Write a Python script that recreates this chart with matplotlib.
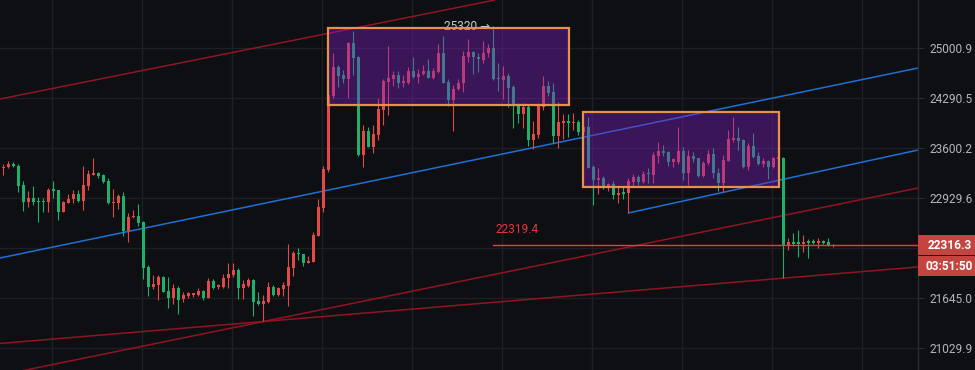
import numpy as np
import matplotlib
matplotlib.use("Agg")
import matplotlib.pyplot as plt
from matplotlib.patches import Rectangle
from matplotlib.ticker import NullLocator

# ---------------- data ----------------
opens = [23323,23341,23386,23359,23104,22881,22926,22895,22895,22874,
         23050,23037,22751,22868,22913,22983,22895,23095,23238,23269,
         23238,23158,22861,22868,22956,22500,22678,22695,22621,22041,
         21780,21809,21915,21734,21649,21775,21629,21670,21683,21683,
         21734,21649,21860,21780,21788,21894,21936,22000,21775,21801,
         21873,21608,21567,21599,21788,21683,21759,21801,22029,22219,
         22202,22092,22105,22439,22803,23305,24319,24735,24617,24560,
         25077,24877,23506,23835,23618,23780,24125,24522,24560,24617,
         24508,24508,24674,24593,24627,24674,24570,24664,24934,24522,
         24263,24414,24499,24877,24948,24877,24830,24926,25005,24579,
         24546,24607,24451,24204,24065,24170,23711,23780,24170,24461,
         24380,23770,23949,23973,23941,23959,23821,23894,23349,23171,
         23202,23091,23117,22970,23014,22993,23148,23215,23140,23269,
         23238,23493,23560,23551,23417,23417,23560,23269,23493,23462,
         23225,23395,23520,23261,23135,23426,23711,23742,23711,23349,
         23628,23493,23386,23426,23349,23457,23462,22309,22353,22353,
         22327,22370,22374,22348,22370,22361,22305]
highs = [23382,23430,23417,23382,23162,23028,23095,22947,22934,23060,
         23162,23040,22895,22979,23037,23037,23359,23305,23462,23282,
         23245,23202,23046,22983,23014,22730,22773,22848,22634,22063,
         21936,21936,21927,21907,21818,21801,21717,21717,21712,21768,
         21740,21894,21886,21822,21945,22084,22092,22029,21873,21902,
         21882,21717,21683,21851,21809,21788,21851,22327,22244,22282,
         22205,22177,22491,22913,23359,24361,24926,24759,24688,25092,
         25250,24891,23918,23886,23918,24286,24556,25030,24674,24674,
         24617,24727,24877,24698,24759,24840,24721,25054,25178,24556,
         24475,24556,24958,25126,24963,24934,25102,25054,25320,24783,
         24749,24641,24475,24217,24217,24194,23977,24217,24607,24536,
         24508,24231,24065,24070,24083,23987,23918,24024,23372,23336,
         23225,23127,23158,23073,23073,23194,23251,23238,23296,23336,
         23551,23687,23641,23564,23462,23894,23618,23573,23551,23470,
         23426,23573,23596,23328,23506,23849,24019,23894,23720,23673,
         23803,23551,23462,23439,23484,23484,23475,22413,22478,22513,
         22448,22392,22396,22413,22383,22405,22330]
lows = [23238,23336,23349,23014,22760,22809,22835,22621,22743,22751,
        22926,22643,22743,22861,22861,22881,22773,23037,23238,23194,
        23135,22855,22678,22783,22435,22361,22665,22565,21886,21674,
        21755,21620,21717,21526,21567,21444,21599,21649,21661,21670,
        21620,21645,21759,21759,21775,21768,21915,21629,21629,21788,
        21427,21559,21362,21580,21674,21674,21674,21547,21927,22126,
        22054,22084,22097,22435,22751,23278,24286,24451,24499,24286,
        24617,23497,23341,23610,23529,23711,23918,24056,24461,24437,
        24451,24489,24570,24508,24617,24570,24560,24650,24499,24184,
        23839,24404,24380,24806,24627,24656,24792,24877,24546,24394,
        24277,24162,23872,23941,23872,23628,23583,23742,24125,24323,
        23665,23604,23724,23756,23849,23780,23807,23330,22839,22983,
        23050,23028,22917,22868,22917,22730,23073,23104,23127,23135,
        23135,23395,23493,23359,23341,23386,23171,23104,23417,23215,
        23215,23372,23194,23028,23014,23420,23679,23573,23336,23305,
        23462,23372,23349,23184,23336,23450,21902,22253,22309,22161,
        22232,22155,22327,22274,22331,22305,22290]
closes = [23349,23386,23359,23095,22881,22926,22881,22874,22874,23037,
          23028,22751,22881,22917,22983,22895,23104,23251,23269,23229,
          23148,22861,22881,22960,22504,22686,22699,22608,22029,21788,
          21822,21915,21725,21649,21775,21620,21683,21704,21704,21734,
          21649,21860,21775,21809,21902,21949,22000,21775,21818,21873,
          21599,21567,21608,21788,21683,21775,21809,22041,22219,22199,
          22092,22117,22448,22816,23319,24333,24735,24607,24560,25077,
          24863,23506,23835,23618,23789,24139,24532,24570,24617,24508,
          24536,24674,24593,24631,24674,24579,24674,24926,24508,24263,
          24418,24508,24887,24948,24869,24840,24934,25005,24560,24556,
          24607,24428,24180,24065,24170,23711,23793,24180,24461,24366,
          23770,23955,23973,23941,23963,23825,23890,23336,23171,23202,
          23060,23117,22970,23001,22979,23158,23215,23140,23251,23248,
          23506,23564,23537,23417,23449,23560,23269,23493,23453,23225,
          23403,23520,23261,23135,23439,23724,23742,23701,23349,23628,
          23484,23386,23426,23349,23462,23475,22309,22353,22327,22327,
          22353,22340,22340,22370,22348,22309,22316.3]

price_ticks = [21029.9, 21645.0, 22278.4, 22929.6, 23600.2, 24290.5, 25000.9]
price_tick_labels = ["21029.9", "21645.0", "22278.4", "22929.6", "23600.2", "24290.5", "25000.9"]

# rectangles: (x start bar, x end bar, low price, high price)
box1 = (64.94, 113.14, 24192.7, 25290.9)
box2 = (115.94, 155.14, 23075.6, 24095.3)

# trend lines: ((x0, p0), (x1, p1))
red_top = ((-0.66, 24276.6), (98.34, 25702.4))
blue_long = ((-0.66, 22150.0), (182.94, 24714.0))
blue_short = ((124.94, 22732.0), (182.94, 23573.0))
red_mid = ((-0.66, 20702.0), (182.94, 23062.0))
red_low = ((-0.66, 21085.0), (182.94, 22036.0))

hline_price = 22319.4
hline_start = 97.9
high_label = "25320 →"
high_value = 25320
last_price_label = "22316.3"
countdown_label = "03:51:50"

# ---------------- style ----------------
BG = "#0e0f12"
GRID = "#1d1f24"
UP = "#e24a4a"
DOWN = "#1fb06c"
TXT = "#b2b5be"
FONT = ["Roboto", "DejaVu Sans"]
plt.rcParams["font.family"] = FONT

W, H = 975, 370
fig = plt.figure(figsize=(W / 100, H / 100), dpi=100, facecolor=BG)
ax = fig.add_axes([0, 0, 918 / W, 1])
ax.set_facecolor(BG)
ax.set_yscale("log")
ax.set_xlim(-0.66, 182.94)
ax.set_ylim(20765.0, 25702.4)
ax.yaxis.set_minor_locator(NullLocator())

for s in ["top", "left", "bottom"]:
    ax.spines[s].set_visible(False)
ax.spines["right"].set_color("#2a2d33")
ax.spines["right"].set_linewidth(1.0)

ax.yaxis.tick_right()
ax.set_yticks(price_ticks)
ax.set_yticklabels(price_tick_labels)
ax.tick_params(axis="y", length=4, color="#2a2d33", labelcolor=TXT,
               labelsize=8.6, pad=4)
ax.tick_params(axis="x", length=0, labelbottom=False)

# grid
for p in price_ticks:
    ax.axhline(p, color=GRID, lw=1.0, zorder=0.5)
for gx in np.arange(9.74, 183, 18):
    ax.axvline(gx, color=GRID, lw=1.0, zorder=0.5)

# trend lines
for (p0, p1), col in [(red_top, "#8f1524"), (red_mid, "#8f1524"), (red_low, "#8f1524"),
                      (blue_long, "#1f6fd6"), (blue_short, "#1f6fd6")]:
    ax.plot([p0[0], p1[0]], [p0[1], p1[1]], color=col, lw=1.1, zorder=1,
            solid_capstyle="butt")

# candles
o = np.array(opens, float)
h = np.array(highs, float)
l = np.array(lows, float)
c = np.array(closes, float)
x = np.arange(len(o))
cols = np.where(c >= o, UP, DOWN)
ax.vlines(x, l, h, colors=cols, lw=0.8, zorder=2)
bottoms = np.minimum(o, c)
heights = np.maximum(np.abs(c - o), 12)
ax.bar(x, heights, bottom=bottoms, width=0.62, color=cols, linewidth=0, zorder=2.1)

# high label (under box)
ax.text(97.4, high_value, high_label, ha="right", va="center", color="#c9cbd1",
        fontsize=8.6, zorder=2.8, family=FONT)

# price line + label
ax.plot([hline_start, 182.94], [hline_price, hline_price], color="#f23645", lw=1.0, zorder=2.5)
ax.annotate(f"{hline_price}", xy=(98.34, hline_price), xytext=(0, 15),
            textcoords="offset pixels", ha="left", va="center", color="#e8343d",
            fontsize=8.6, zorder=2.6)

# boxes
for (x0, x1, p0, p1) in [box1, box2]:
    ax.add_patch(Rectangle((x0, p0), x1 - x0, p1 - p0, facecolor="#7e20c0",
                           alpha=0.4, edgecolor="none", zorder=3))
    ax.add_patch(Rectangle((x0, p0), x1 - x0, p1 - p0, facecolor="none",
                           edgecolor="#e8914e", lw=1.6, zorder=4))

# right price boxes
fig.canvas.draw()
ypix = ax.transData.transform((0, closes[-1]))[1]  # from bottom
box_h = 20
fig.patches.append(Rectangle((918 / W, (ypix - box_h / 2) / H), 57 / W, box_h / H,
                             transform=fig.transFigure, facecolor="#c4453f",
                             edgecolor="none", zorder=5))
fig.patches.append(Rectangle((918 / W, (ypix - box_h / 2 - 21) / H), 57 / W, box_h / H,
                             transform=fig.transFigure, facecolor="#c4453f",
                             edgecolor="none", zorder=5))
fig.text(949.5 / W, ypix / H, last_price_label, ha="center", va="center",
         color="white", fontsize=8.6, fontweight="bold", zorder=6)
fig.text(949.5 / W, (ypix - 21) / H, countdown_label, ha="center", va="center",
         color="white", fontsize=8.6, fontweight="bold", zorder=6)

fig.savefig("out.png", dpi=100, facecolor=BG)
